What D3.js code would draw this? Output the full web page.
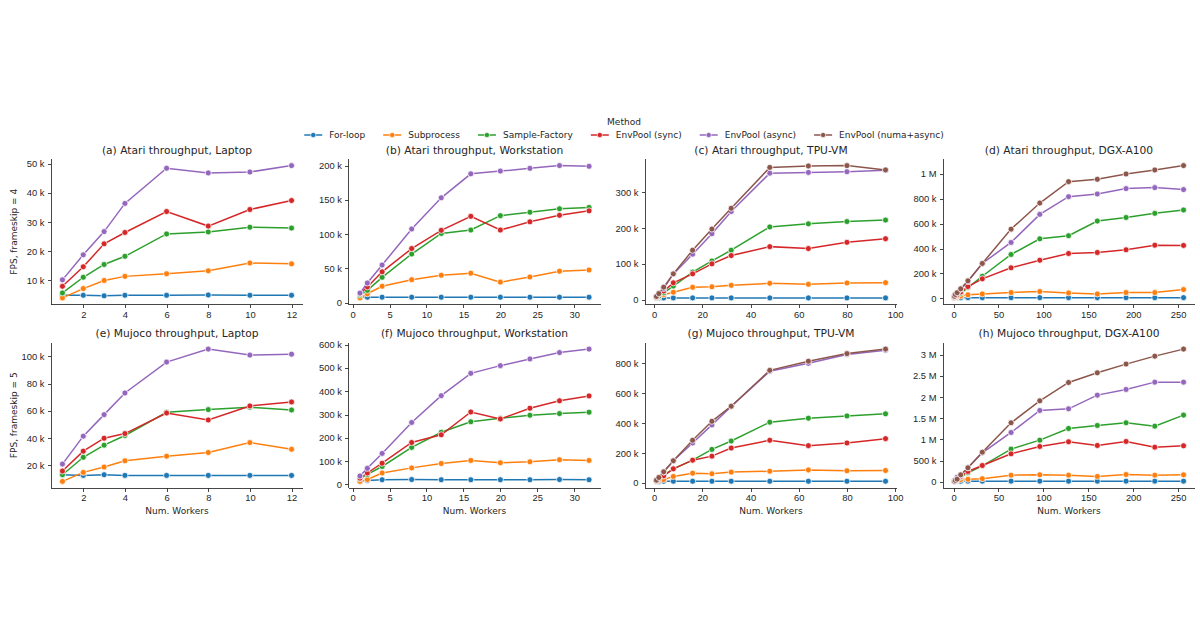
<!DOCTYPE html>
<html>
<head>
<meta charset="utf-8">
<script src="https://cdn.jsdelivr.net/npm/d3@7"></script>
<style>
    body {
        margin: 0;
        background: #ffffff;
        font-family: "DejaVu Sans", sans-serif;
    }

    text {
        fill: #262626;
    }

    text.title {
        font-size: 10.7px;
    }

    .axis text {
        font-size: 9.4px;
        fill: #262626;
    }

    .axis path.domain,
    .axis .tick line {
        stroke: #333333;
        stroke-width: 0.9;
        shape-rendering: crispEdges;
    }

    text.axisLabel,
    text.legendText {
        font-size: 9px;
    }
</style>
</head>
<body>
<div id="chart"></div>
<script>
    // values in thousands of frames per second
    const methods = ["For-loop", "Subprocess", "Sample-Factory", "EnvPool (sync)", "EnvPool (async)", "EnvPool (numa+async)"];
    const colors = ["#1f77b4", "#ff7f0e", "#2ca02c", "#d62728", "#9467bd", "#8c564b"];

    const workersLaptop = [1, 2, 3, 4, 6, 8, 10, 12];
    const workersWorkstation = [1, 2, 4, 8, 12, 16, 20, 24, 28, 32];
    const workersTPU = [1, 2, 4, 8, 16, 24, 32, 48, 64, 80, 96];
    const workersDGX = [1, 2, 4, 8, 16, 32, 64, 96, 128, 160, 192, 224, 256];

    const atariLaptop = [
        [4.8, 4.8, 4.6, 4.8, 4.8, 4.9, 4.8, 4.8],
        [3.9, 7.1, 9.9, 11.3, 12.2, 13.2, 15.9, 15.6],
        [5.6, 11.0, 15.4, 18.2, 25.9, 26.6, 28.2, 27.9],
        [7.9, 14.6, 22.5, 26.4, 33.6, 28.6, 34.3, 37.4],
        [10.1, 18.7, 26.7, 36.4, 48.5, 46.9, 47.2, 49.4]
    ];
    const atariWorkstation = [
        [7.8, 8, 8, 8, 8, 8, 8, 8, 8, 8],
        [7, 13, 24, 33.6, 40, 43, 30, 37.5, 46, 47.7],
        [11, 18, 37, 71, 101, 106, 127, 132, 137, 139],
        [13, 23, 45, 79, 105.6, 126, 106, 118, 127.5, 134],
        [14, 28.7, 55, 107.5, 153, 188, 192, 196, 200, 199]
    ];
    const atariTPU = [
        [5, 5, 5, 5, 5, 5, 5, 5, 5, 5, 5],
        [5, 8, 14, 21, 34.5, 36, 40, 45.6, 43, 46.6, 47.5],
        [6, 10, 19, 38, 77, 108, 138, 203, 211.5, 218, 222],
        [8, 15, 24, 47, 72, 100, 123, 148, 142.6, 160, 170],
        [9, 17, 31, 72, 127, 184, 246, 353, 355, 357, 361],
        [9, 17, 35, 72, 138, 197, 255, 369, 373, 374, 362]
    ];
    const atariDGX = [
        [3, 3, 4, 4, 5, 5, 5, 5, 5, 5, 5, 5, 5],
        [4, 6, 10, 18, 28, 35, 46, 54, 43, 35, 46, 46, 70],
        [6, 10, 20, 40, 86, 177, 352, 478, 503, 621, 650, 683, 710],
        [8, 14, 26, 50, 94, 156, 245, 306, 360, 368, 390, 427, 425],
        [16, 30, 40, 72, 135, 280, 449, 675, 817, 839, 882, 890, 874],
        [16, 30, 45, 76, 140, 280, 556, 766, 938, 957, 1000, 1032, 1067]
    ];
    const mujocoLaptop = [
        [13.2, 12.7, 13.2, 12.7, 12.7, 12.7, 12.7, 12.7],
        [8.3, 14.9, 18.8, 23.4, 26.8, 29.5, 36.8, 31.9],
        [13.2, 26, 34.9, 42, 59, 61, 62.7, 60.7],
        [15.9, 30.5, 40, 43.4, 58.5, 53.4, 63.7, 66.6],
        [21, 41.5, 57.3, 73.2, 95.9, 105.4, 101, 101.7]
    ];
    const mujocoWorkstation = [
        [14, 17, 20, 21, 20, 20, 20, 20, 21, 20],
        [13, 21, 49, 71, 90, 103, 93, 97, 106, 103],
        [24, 43, 77, 159, 224, 269, 284, 297, 304, 310],
        [27, 49, 91, 180, 213, 311, 281, 327, 359, 380],
        [36, 69, 133, 266, 381, 477, 510, 539, 566, 581]
    ];
    const mujocoTPU = [
        [10, 10, 11, 11, 11, 11, 11, 11, 11, 11, 11],
        [12, 16, 22, 43, 65, 61, 72, 78, 87, 81, 83],
        [14, 25, 52, 94, 152, 224, 280, 406, 433, 448, 462],
        [15, 28, 47, 94, 152, 179, 233, 285, 249, 267, 296],
        [18, 36, 72, 148, 267, 388, 511, 747, 800, 859, 888],
        [18, 36, 74, 148, 285, 412, 513, 753, 814, 865, 895]
    ];
    const mujocoDGX = [
        [10, 12, 14, 15, 16, 16, 16, 16, 16, 16, 16, 16, 16],
        [12, 20, 35, 54, 60, 75, 157, 165, 157, 126, 173, 157, 165],
        [15, 30, 60, 110, 213, 378, 772, 984, 1260, 1331, 1394, 1315, 1575],
        [15, 32, 65, 125, 244, 385, 661, 835, 945, 858, 953, 819, 850],
        [15, 40, 108, 157, 331, 685, 1165, 1685, 1724, 2047, 2181, 2354, 2354],
        [15, 35, 63, 165, 331, 700, 1394, 1913, 2346, 2575, 2780, 2968, 3134]
    ];

    const ticksX12 = [2, 4, 6, 8, 10, 12];
    const ticksX32 = [0, 5, 10, 15, 20, 25, 30];
    const ticksX96 = [0, 20, 40, 60, 80, 100];
    const ticksX256 = [0, 50, 100, 150, 200, 250];

    const panels = [
        {title: "(a) Atari throughput, Laptop", x: workersLaptop, y: atariLaptop, xTicks: ticksX12, yTicks: [10, 20, 30, 40, 50]},
        {title: "(b) Atari throughput, Workstation", x: workersWorkstation, y: atariWorkstation, xTicks: ticksX32, yTicks: [0, 50, 100, 150, 200]},
        {title: "(c) Atari throughput, TPU-VM", x: workersTPU, y: atariTPU, xTicks: ticksX96, yTicks: [0, 100, 200, 300]},
        {title: "(d) Atari throughput, DGX-A100", x: workersDGX, y: atariDGX, xTicks: ticksX256, yTicks: [0, 200, 400, 600, 800, 1000]},
        {title: "(e) Mujoco throughput, Laptop", x: workersLaptop, y: mujocoLaptop, xTicks: ticksX12, yTicks: [20, 40, 60, 80, 100]},
        {title: "(f) Mujoco throughput, Workstation", x: workersWorkstation, y: mujocoWorkstation, xTicks: ticksX32, yTicks: [0, 100, 200, 300, 400, 500, 600]},
        {title: "(g) Mujoco throughput, TPU-VM", x: workersTPU, y: mujocoTPU, xTicks: ticksX96, yTicks: [0, 200, 400, 600, 800]},
        {title: "(h) Mujoco throughput, DGX-A100", x: workersDGX, y: mujocoDGX, xTicks: ticksX256, yTicks: [0, 500, 1000, 1500, 2000, 2500, 3000]}
    ];

    const width = 1200, height = 630;
    const colLeft = [51, 348.5, 645, 943];
    const axW = 252;
    const rowTop = [159, 342.5];
    const axH = 145.5;

    const svg = d3.select("#chart").append("svg")
        .attr("width", width)
        .attr("height", height)
        .style("background", "#fff");

    // engineering style labels: 10 k, 1.5 M
    const fmt = v => v === 0 ? "0" : (v >= 1000 ? d3.format("~g")(v / 1000) + " M" : d3.format("~g")(v) + " k");

    // matplotlib-like autoscale with 5% margin
    function padded(ext) {
        let m = (ext[1] - ext[0]) * 0.05;
        return [ext[0] - m, ext[1] + m];
    }

    panels.forEach((p, i) => {
        let row = Math.floor(i / 4), col = i % 4;
        let left = colLeft[col], top = rowTop[row];

        let x = d3.scaleLinear()
            .domain(padded(d3.extent(p.x)))
            .range([left, left + axW]);
        let y = d3.scaleLinear()
            .domain(padded([d3.min(p.y, s => d3.min(s)), d3.max(p.y, s => d3.max(s))]))
            .range([top + axH, top]);

        let g = svg.append("g").attr("class", "panel");

        g.append("g")
            .attr("class", "axis xAxis")
            .attr("transform", `translate(0, ${top + axH})`)
            .call(d3.axisBottom(x).tickValues(p.xTicks).tickSize(3.5).tickSizeOuter(0).tickPadding(3))
            .call(a => a.select(".domain").attr("d", `M${left},0H${left + axW}`));

        g.append("g")
            .attr("class", "axis yAxis")
            .attr("transform", `translate(${left}, 0)`)
            .call(d3.axisLeft(y).tickValues(p.yTicks).tickFormat(fmt).tickSize(3.5).tickSizeOuter(0).tickPadding(3))
            .call(a => a.select(".domain").attr("d", `M0,${top}V${top + axH}`));

        g.append("text")
            .attr("class", "title")
            .attr("x", left + axW / 2)
            .attr("y", top - 5.5)
            .style("text-anchor", "middle")
            .text(p.title);

        let line = d3.line()
            .x((d, j) => x(p.x[j]))
            .y(d => y(d));

        p.y.forEach((series, k) => {
            let s = g.append("g").attr("class", "series");
            s.append("path")
                .datum(series)
                .attr("d", line)
                .attr("fill", "none")
                .attr("stroke", colors[k])
                .attr("stroke-width", 1.5);
            s.selectAll("circle")
                .data(series)
                .enter()
                .append("circle")
                .attr("cx", (d, j) => x(p.x[j]))
                .attr("cy", d => y(d))
                .attr("r", 3)
                .attr("fill", colors[k])
                .attr("stroke", "#fff")
                .attr("stroke-width", 0.75);
        });

        if (row === 1) {
            g.append("text")
                .attr("class", "axisLabel")
                .attr("x", left + axW / 2)
                .attr("y", top + axH + 26)
                .style("text-anchor", "middle")
                .text("Num. Workers");
        }
        if (col === 0) {
            g.append("text")
                .attr("class", "axisLabel")
                .attr("transform", `translate(17, ${top + axH / 2}) rotate(-90)`)
                .style("text-anchor", "middle")
                .text(row === 0 ? "FPS, frameskip = 4" : "FPS, frameskip = 5");
        }
    });

    // legend across the top, centred like the figure legend
    let legend = svg.append("g").attr("class", "legend");
    legend.append("text")
        .attr("class", "legendText")
        .attr("x", 624)
        .attr("y", 125)
        .style("text-anchor", "middle")
        .text("Method");

    let items = legend.selectAll("g.item")
        .data(methods)
        .enter()
        .append("g")
        .attr("class", "item");

    items.append("text")
        .attr("class", "legendText")
        .attr("y", 138)
        .text(d => d);

    let handleLen = 18, textPad = 7, colSpace = 18;
    let widths = [];
    items.select("text").each(function() { widths.push(this.getComputedTextLength()); });
    let total = d3.sum(widths) + methods.length * (handleLen + textPad) + (methods.length - 1) * colSpace;
    let cursor = 624 - total / 2;

    items.each(function(d, i) {
        let it = d3.select(this);
        it.append("line")
            .attr("x1", cursor).attr("x2", cursor + handleLen)
            .attr("y1", 135).attr("y2", 135)
            .attr("stroke", colors[i])
            .attr("stroke-width", 1.5);
        it.append("circle")
            .attr("cx", cursor + handleLen / 2)
            .attr("cy", 135)
            .attr("r", 2.6)
            .attr("fill", colors[i])
            .attr("stroke", "#fff")
            .attr("stroke-width", 0.6);
        it.select("text").attr("x", cursor + handleLen + textPad);
        cursor += handleLen + textPad + widths[i] + colSpace;
    });
</script>
</body>
</html>
